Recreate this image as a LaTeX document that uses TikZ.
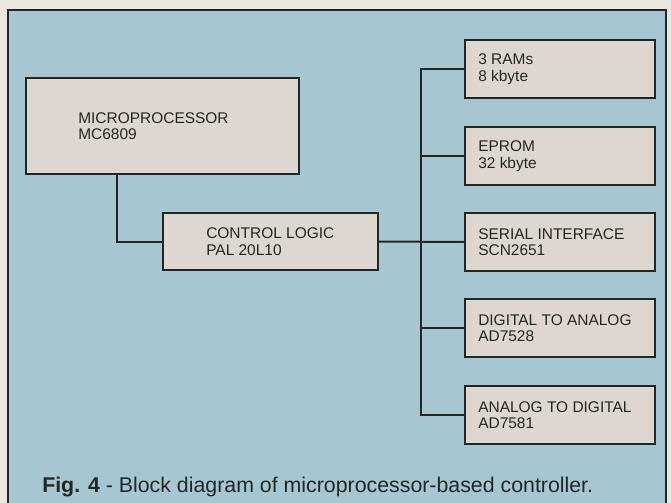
\documentclass[tikz,border=0pt]{standalone}
\usepackage{fontspec}
\setmainfont{Liberation Sans}
\definecolor{page}{RGB}{236,231,222}
\definecolor{panel}{RGB}{166,199,210}
\definecolor{boxfill}{RGB}{222,215,207}
\definecolor{ink}{RGB}{36,38,38}
\begin{document}
\begin{tikzpicture}[x=0.75pt,y=-0.75pt,
  blk/.style={draw=ink,line width=1.5pt,fill=boxfill,inner sep=0pt,anchor=north west},
  rblk/.style={blk,minimum width=142.5pt,minimum height=43.5pt},
  lbl/.style={anchor=west,align=left,text=ink,font=\fontsize{11.6}{12.4}\selectfont,inner sep=0pt},
  wire/.style={draw=ink,line width=1.5pt}]
\fill[page] (0,0) rectangle (671,503);
\useasboundingbox (0,0) rectangle (671,503);
\begin{scope}
  \clip (0,0) rectangle (671,503);
  \draw[draw=ink,fill=panel,line width=1.5pt] (8,10) rectangle (666,530);
\end{scope}

% boxes
\node[blk,minimum width=204.75pt,minimum height=72pt] (micro) at (25,77) {};
\node[blk,minimum width=161.25pt,minimum height=42.75pt] (ctrl) at (162,212) {};
\node[rblk] (ram) at (464,39) {};
\node[rblk] (eprom) at (464,126) {};
\node[rblk] (serial) at (464,212) {};
\node[rblk] (dac) at (464,298) {};
\node[rblk] (adc) at (464,385) {};

% labels
\node[lbl] (microT) at ([xshift=39.75pt]micro.west) {MICROPROCESSOR\\MC6809};
\node[lbl] (ctrlT) at ([xshift=33pt]ctrl.west) {CONTROL LOGIC\\PAL 20L10};
\node[lbl] (ramT) at ([xshift=10.5pt]ram.west) {3 RAMs\\8 kbyte};
\node[lbl] (epromT) at ([xshift=10.5pt]eprom.west) {EPROM\\32 kbyte};
\node[lbl] (serialT) at ([xshift=10.5pt]serial.west) {SERIAL INTERFACE\\SCN2651};
\node[lbl] (dacT) at ([xshift=10.5pt]dac.west) {DIGITAL TO ANALOG\\AD7528};
\node[lbl] (adcT) at ([xshift=10.5pt]adc.west) {ANALOG TO DIGITAL\\AD7581};

% connectors
\coordinate (mx) at (117,0);
\coordinate (bus) at (421,0);
\draw[wire] (micro.south -| mx) |- (ctrl.west);
\draw[wire] (ctrl.east) -- (serial.west);
\draw[wire] (ram.west) -- (ram.west -| bus) -- (adc.west -| bus) -- (adc.west);
\draw[wire] (eprom.west) -- (eprom.west -| bus);
\draw[wire] (dac.west) -- (dac.west -| bus);

% caption
\node[anchor=base west,text=ink,font=\fontsize{16}{19}\selectfont,inner sep=0pt] (cap) at (42,492)
  {\textbf{Fig. 4} - Block diagram of microprocessor-based controller.};
\end{tikzpicture}
\end{document}
